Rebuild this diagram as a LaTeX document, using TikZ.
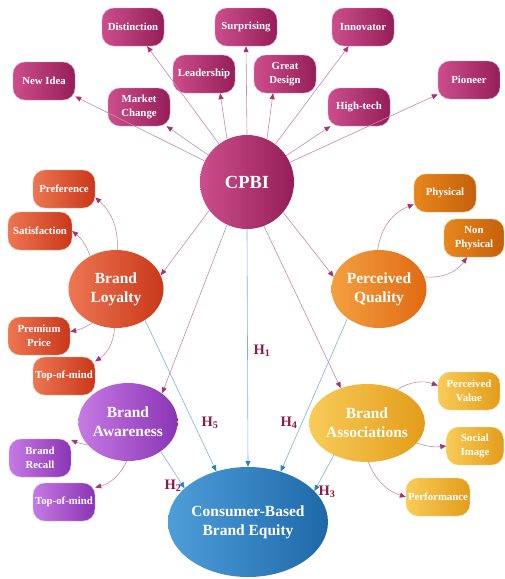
\documentclass[tikz,border=0pt]{standalone}
\usepackage{fontspec}
\setmainfont{Liberation Serif}
\usetikzlibrary{arrows.meta,shapes.geometric}

\definecolor{berryL}{HTML}{CC4E8C}
\definecolor{berryD}{HTML}{951E58}
\definecolor{redL}{HTML}{EE7652}
\definecolor{redD}{HTML}{C8381A}
\definecolor{orL}{HTML}{F4A040}
\definecolor{orD}{HTML}{E06A12}
\definecolor{phL}{HTML}{E8861E}
\definecolor{phD}{HTML}{C4600A}
\definecolor{goldL}{HTML}{F8CC58}
\definecolor{goldD}{HTML}{E39C1A}
\definecolor{purL}{HTML}{C67AE4}
\definecolor{purD}{HTML}{8A34B4}
\definecolor{bluL}{HTML}{4E9EDA}
\definecolor{bluD}{HTML}{1E68A8}
\definecolor{pinkline}{HTML}{C98AA8}
\definecolor{pinktip}{HTML}{A8336E}
\definecolor{blueline}{HTML}{7EB2D8}
\definecolor{bluetip}{HTML}{2F7FC0}
\definecolor{hcol}{HTML}{8B1A4A}

\tikzset{
  box/.style 2 args={rectangle, rounded corners=12pt, minimum width=62pt,
    minimum height=38pt, inner sep=2pt, align=center, text=white,
    left color=#1, right color=#2, draw=#1!60!white, line width=0.4pt,
    font=\bfseries\fontsize{10.8}{13.5}\selectfont},
  construct/.style 2 args={ellipse, minimum width=95pt, minimum height=78pt,
    inner sep=0pt, align=center, text=white, left color=#1, right color=#2,
    font=\bfseries\fontsize{15.5}{19}\selectfont},
  cline/.style={pinkline, line width=0.6pt,
    -{Triangle[length=6pt,width=5pt,color=pinktip]}},
  bline/.style={blueline, line width=0.6pt,
    -{Triangle[length=6pt,width=5pt,color=bluetip]}},
  hlab/.style={text=hcol, font=\bfseries\fontsize{14.5}{14.5}\selectfont}
}

\begin{document}
\begin{tikzpicture}[x=1pt,y=-1pt]
  \useasboundingbox (0,0) rectangle (504,579);

  % central node
  \node[circle, minimum size=94pt, inner sep=0pt, text=white,
    left color=berryL, right color=berryD,
    font=\bfseries\fontsize{18.5}{18.5}\selectfont] (cpbi) at (247,182) {CPBI};

  % top boxes
  \node[box={berryL}{berryD}] (dist) at (133,27) {Distinction};
  \node[box={berryL}{berryD}] (surp) at (246,27) {Surprising};
  \node[box={berryL}{berryD}] (innov) at (363,27) {Innovator};
  \node[box={berryL}{berryD}] (newidea) at (44,81) {New Idea};
  \node[box={berryL}{berryD}] (lead) at (204,74) {Leadership};
  \node[box={berryL}{berryD}] (gdesign) at (285,74) {Great\\Design};
  \node[box={berryL}{berryD}] (mchange) at (139,107) {Market\\Change};
  \node[box={berryL}{berryD}] (htech) at (359,107) {High-tech};
  \node[box={berryL}{berryD}] (pioneer) at (469,80) {Pioneer};

  % constructs
  \node[construct={redL}{redD}] (loyal) at (116,289) {Brand\\Loyalty};
  \node[construct={purL}{purD}] (aware) at (128,422) {Brand\\Awareness};
  \node[construct={orL}{orD}] (qual) at (379,289) {Perceived\\Quality};
  \node[construct={goldL}{goldD}] (assoc) at (367,423) {Brand\\Associations};
  \node[ellipse, minimum width=144pt, minimum height=110pt, inner sep=0pt,
    align=center, text=white, left color=bluL, right color=bluD,
    font=\bfseries\fontsize{15.5}{19}\selectfont] (cbbe) at (248,522)
    {Consumer-Based\\Brand Equity};

  % sub boxes
  \node[box={redL}{redD}] (pref) at (64,189) {Preference};
  \node[box={redL}{redD}, minimum width=64pt] (satis) at (40,231) {Satisfaction};
  \node[box={redL}{redD}] (premium) at (39,336) {Premium\\Price};
  \node[box={redL}{redD}] (topred) at (64,376) {Top-of-mind};
  \node[box={purL}{purD}] (recall) at (40,458) {Brand\\Recall};
  \node[box={purL}{purD}] (toppur) at (64,502) {Top-of-mind};
  \node[box={phL}{phD}] (phys) at (445,193) {Physical};
  \node[box={phL}{phD}, minimum width=60pt] (nonphys) at (474,238) {Non\\Physical};
  \node[box={goldL}{goldD}] (pvalue) at (469,391) {Perceived\\Value};
  \node[box={goldL}{goldD}, minimum width=57pt] (simage) at (475,446) {Social\\Image};
  \node[box={goldL}{goldD}] (perf) at (438,497) {Performance};

  % hypotheses
  \node[hlab] (h1) at (262,351) {H\textsubscript{1}};
  \node[hlab] (h5) at (210,423) {H\textsubscript{5}};
  \node[hlab] (h4) at (289,423) {H\textsubscript{4}};
  \node[hlab] (h2) at (173,486) {H\textsubscript{2}};
  \node[hlab] (h3) at (327,492) {H\textsubscript{3}};

  % CPBI to top boxes
  \draw[cline] (cpbi) -- (dist);
  \draw[cline] (cpbi.north) -- (surp.south);
  \draw[cline] (cpbi) -- (innov);
  \draw[cline] (cpbi) -- (newidea);
  \draw[cline] (cpbi.115) -- (lead.-50);
  \draw[cline] (cpbi.65) -- (gdesign.-122);
  \draw[cline] (cpbi) -- (mchange);
  \draw[cline] (cpbi) -- (htech);
  \draw[cline] (cpbi) -- (pioneer);

  % CPBI to constructs
  \draw[cline] (cpbi.217) -- (loyal.17);
  \draw[cline] (cpbi.245) -- (aware.40);
  \draw[cline] (cpbi.-40) -- (qual.165);
  \draw[cline] (cpbi.-69) -- (assoc.127);
  \draw[bline] (cpbi.south) -- (cbbe.north);

  % constructs to CBBE
  \draw[bline] (loyal.-47) -- (cbbe.122);
  \draw[bline] (aware.-42) -- (cbbe.152);
  \draw[bline] (qual.223) -- (cbbe.57);
  \draw[bline] (assoc.224) -- (cbbe.25);

  % constructs to sub boxes
  \draw[cline] (loyal.88) to[bend right=25] (pref.-15);
  \draw[cline] (loyal.128) to[bend right=15] (satis.east);
  \draw[cline] (loyal.-125) to[bend left=10] (premium.8);
  \draw[cline] (loyal.-92) to[bend left=25] (topred.25);
  \draw[cline] (aware.-150) to[bend left=5] (recall.30);
  \draw[cline] (aware.-92) to[bend left=25] (toppur.25);
  \draw[cline] (qual.92) to[bend left=30] (phys.-160);
  \draw[cline] (qual.15) to[bend right=30] (nonphys.-110);
  \draw[cline] (assoc.48) to[bend left=25] (pvalue.170);
  \draw[cline] (assoc.-22) to[bend right=12] (simage.west);
  \draw[cline] (assoc.-88) to[bend right=25] (perf.west);
\end{tikzpicture}
\end{document}
